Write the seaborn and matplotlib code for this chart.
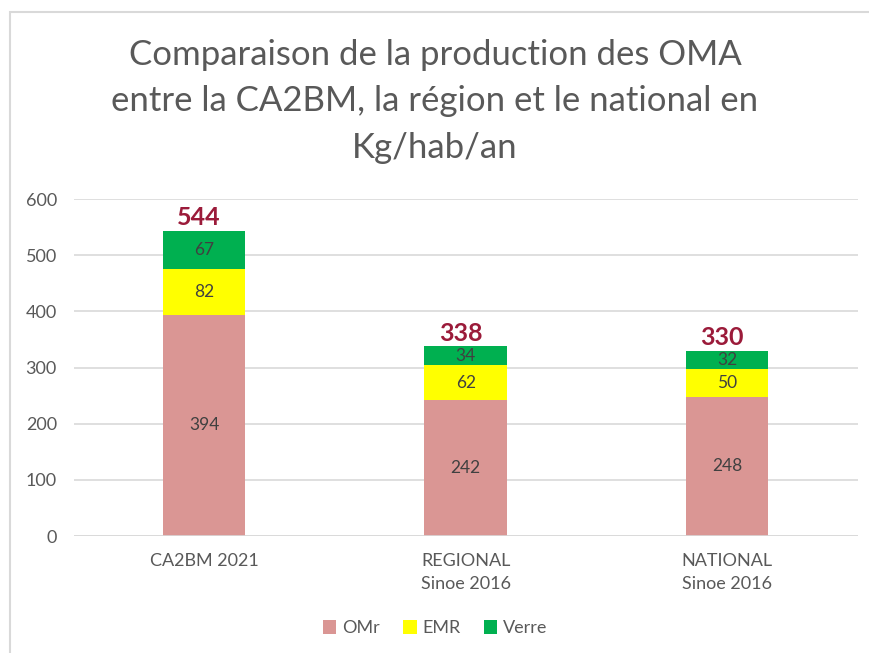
import numpy as np
import pandas as pd
import matplotlib.pyplot as plt
import seaborn as sns
from matplotlib.patches import Rectangle

# données (kg/hab/an)
categories = ["CA2BM 2021", "REGIONAL\nSinoe 2016", "NATIONAL\nSinoe 2016"]
omr = [394, 242, 248]
emr = [82, 62, 50]
verre = [67, 34, 32]
totaux = [544, 338, 330]
series = ["OMr", "EMR", "Verre"]
couleurs = ["#DA9694", "#FFFF00", "#00B050"]

sns.set_style("white")
plt.rcParams["font.family"] = ["Lato", "DejaVu Sans"]

fig = plt.figure(figsize=(8.7, 6.53), dpi=100)
ax = fig.add_axes([0.0845, 0.179, 0.9015, 0.516])

# cadre gris autour du graphique
fig.patches.append(Rectangle((10 / 870, -0.1), 2, 1.1 - 12 / 653, transform=fig.transFigure,
                             fill=False, edgecolor="#D9D9D9", linewidth=1.5))

df = pd.DataFrame({"cat": categories, "OMr": omr, "EMR": emr, "Verre": verre})
df["c1"] = df["OMr"]
df["c2"] = df["OMr"] + df["EMR"]
df["c3"] = df["c2"] + df["Verre"]

# barres empilées : on dessine du haut vers le bas
for col, c, lab in zip(["c3", "c2", "c1"], couleurs[::-1], series[::-1]):
    sns.barplot(data=df, x="cat", y=col, color=c, width=0.315, ax=ax,
                label=lab, saturation=1, edgecolor="none", zorder=3)

ax.set_ylim(0, 600)
ax.set_xlim(-0.5, 2.5)
ax.set_yticks(range(0, 601, 100))
ax.yaxis.grid(True, color="#D9D9D9", linewidth=1.2, zorder=0)
for s in ax.spines.values():
    s.set_visible(False)
ax.axhline(0, color="#D9D9D9", linewidth=1.2, zorder=4)
ax.set_xlabel("")
ax.set_ylabel("")
ax.tick_params(axis="both", length=0, labelsize=13, labelcolor="#595959")
ax.tick_params(axis="y", pad=12)
ax.tick_params(axis="x", pad=12)
for t in ax.get_xticklabels():
    t.set_linespacing(1.55)

# étiquettes de valeurs
for i in range(3):
    ax.text(i, omr[i] / 2, str(omr[i]), ha="center", va="center", fontsize=12.5, color="#404040", zorder=5)
    ax.text(i, omr[i] + emr[i] / 2, str(emr[i]), ha="center", va="center", fontsize=12.5, color="#404040", zorder=5)
    ax.text(i, omr[i] + emr[i] + verre[i] / 2, str(verre[i]), ha="center", va="center", fontsize=12.5, color="#404040", zorder=5)
    ax.text(i - 0.02, totaux[i] + 3, str(totaux[i]), ha="center", va="bottom", fontsize=18, fontweight="bold",
            color="#9B1B3A", zorder=5)

fig.text(0.5, 0.845, "Comparaison de la production des OMA\nentre la CA2BM, la région et le national en\nKg/hab/an",
         ha="center", va="center", fontsize=25, color="#595959", linespacing=1.55)

handles, labels = ax.get_legend_handles_labels()
order = [labels.index(s) for s in series]
ax.legend([handles[k] for k in order], series, loc="center", bbox_to_anchor=(0.5, 0.038),
          bbox_transform=fig.transFigure, ncol=3, frameon=False, fontsize=13, labelcolor="#595959",
          handlelength=0.75, handleheight=0.75, handletextpad=0.3, columnspacing=1.3)

fig.savefig("out.png", dpi=100)
